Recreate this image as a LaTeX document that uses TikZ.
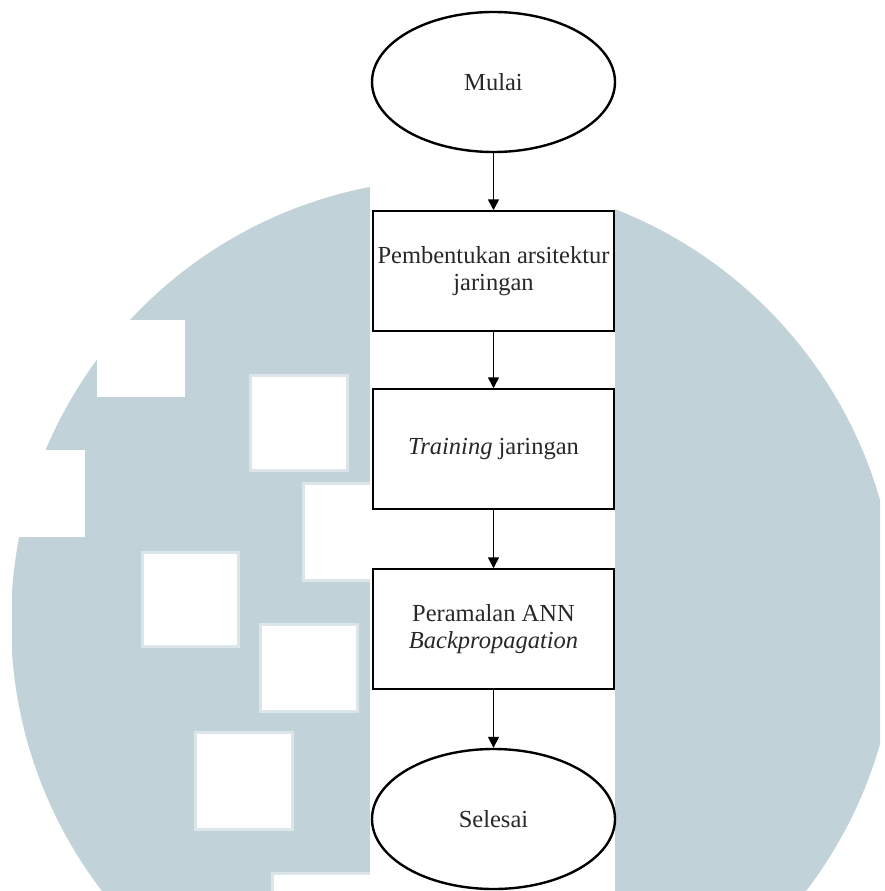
\documentclass[tikz,border=0pt]{standalone}
\usepackage{fontspec}
\setmainfont{Liberation Serif}
\usetikzlibrary{shapes.geometric,arrows.meta}
\definecolor{wm}{RGB}{193,210,217}
\definecolor{wmedge}{RGB}{220,230,234}
\definecolor{txt}{RGB}{40,40,40}
\tikzset{
  termnode/.style={ellipse,draw=black,line width=2.4pt,minimum width=243pt,minimum height=140pt,inner sep=0pt,fill=white,text=txt,font=\fontsize{24.5}{27}\selectfont},
  procnode/.style={rectangle,draw=black,line width=1.5pt,minimum width=241pt,minimum height=120pt,inner sep=2pt,align=center,fill=white,text=txt,font=\fontsize{24.5}{27}\selectfont},
  flowarrow/.style={draw=black,line width=1.5pt,-{Triangle[width=11pt,length=11pt]}},
  wmsquare/.style={fill=white,draw=wmedge,line width=3pt}
}
\begin{document}
\begin{tikzpicture}[x=1pt,y=-1pt]
\useasboundingbox (0,0) rectangle (885,891);
\fill[white] (0,0) rectangle (885,891);
% watermark
\begin{scope}
  \clip (12,0) rectangle (880,891);
  \fill[wm] (454,622) circle[radius=443pt];
\end{scope}
\fill[white] (97,320) rectangle (185,397);
\fill[white] (0,450) rectangle (85,537);
\fill[wmsquare] (250,375) rectangle (347,470);
\fill[wmsquare] (303,483) rectangle (372,580);
\fill[wmsquare] (142,552) rectangle (238,646);
\fill[wmsquare] (260,624) rectangle (357,711);
\fill[wmsquare] (195,732) rectangle (292,829);
\fill[wmsquare] (272,873) rectangle (372,895);
\fill[white] (370,0) rectangle (615,891);
% flowchart
\node[termnode] (mulai) at (493.5,82) {Mulai};
\node[procnode] (arsi) at (493.5,271) {Pembentukan arsitektur\\jaringan};
\node[procnode] (train) at (493.5,449) {\textit{Training} jaringan};
\node[procnode] (ramal) at (493.5,629) {Peramalan ANN\\\textit{Backpropagation}};
\node[termnode] (selesai) at (493.5,819) {Selesai};
\draw[flowarrow] (mulai) -- (arsi);
\draw[flowarrow] (arsi) -- (train);
\draw[flowarrow] (train) -- (ramal);
\draw[flowarrow] (ramal) -- (selesai);
\end{tikzpicture}
\end{document}
